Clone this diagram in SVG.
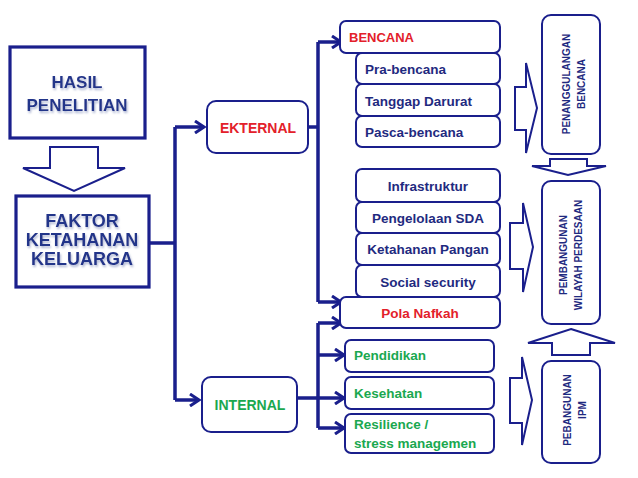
<svg xmlns="http://www.w3.org/2000/svg" width="638" height="478" viewBox="0 0 638 478">
<style>
.box{fill:#fff;stroke:#1a1f8c;stroke-width:2}
.big{fill:#fff;stroke:#1a1f8c;stroke-width:3.2}
.blk{fill:#fff;stroke:#1a1f8c;stroke-width:2}
.con{fill:none;stroke:#1a1f8c;stroke-width:3.5}
.t{font-family:"Liberation Sans",Arial,sans-serif;font-weight:bold;font-size:13.5px;fill:#1f2a80}
.red{fill:#e3202a}
.grn{fill:#1aa84f}
.big-t{font-family:"Liberation Sans",Arial,sans-serif;font-weight:bold;font-size:18px;fill:#24348a;text-anchor:middle}
.v{font-family:"Liberation Sans",Arial,sans-serif;font-weight:bold;font-size:10px;fill:#1f2a80;text-anchor:middle}
.c{text-anchor:middle}
</style>
<defs>
<marker id="ah" viewBox="0 0 12 14" refX="10" refY="7" markerWidth="12" markerHeight="14" markerUnits="userSpaceOnUse" orient="auto">
<path d="M1,1 L10,7 L1,13" fill="none" stroke="#1a1f8c" stroke-width="3"/>
</marker>
<filter id="glow" x="-10%" y="-20%" width="120%" height="140%">
<feGaussianBlur in="SourceAlpha" stdDeviation="1.2" result="b"/>
<feOffset dx="1" dy="1.5" in="b" result="o"/>
<feFlood flood-color="#9aa4c8" flood-opacity="0.8"/>
<feComposite in2="o" operator="in" result="s"/>
<feMerge><feMergeNode in="s"/><feMergeNode in="SourceGraphic"/></feMerge>
</filter>
</defs>

<g id="hasil">
<rect class="big" x="10" y="47" width="135" height="91"/>
<text class="big-t" filter="url(#glow)" font-size="17" style="font-size:17px"><tspan x="77" y="88">HASIL</tspan><tspan x="77" y="111">PENELITIAN</tspan></text>
</g>
<g id="arrow-down-left">
<polygon class="blk" points="50,147 98,147 98,168 125,168 74,191 23,168 50,168"/>
</g>
<g id="faktor">
<rect class="big" x="16" y="196" width="133" height="91"/>
<text class="big-t" filter="url(#glow)"><tspan x="82" y="227">FAKTOR</tspan><tspan x="82" y="246">KETAHANAN</tspan><tspan x="82" y="265">KELUARGA</tspan></text>
</g>

<g id="connectors">
<path class="con" d="M149,243 H175 M175,127 V400 M308,127 H318 M318,42 V302 M318,323 V428 M297,398 H318"/>
<path class="con" marker-end="url(#ah)" d="M175,127 H204"/>
<path class="con" marker-end="url(#ah)" d="M175,400 H199"/>
<path class="con" marker-end="url(#ah)" d="M318,42 H341"/>
<path class="con" marker-end="url(#ah)" d="M318,302 H341"/>
<path class="con" marker-end="url(#ah)" d="M318,323 H341"/>
<path class="con" marker-end="url(#ah)" d="M318,355 H344"/>
<path class="con" marker-end="url(#ah)" d="M318,398 H344"/>
<path class="con" marker-end="url(#ah)" d="M318,428 H344"/>
</g>

<g id="ekternal">
<rect class="box" x="207" y="101" width="101" height="52" rx="9"/>
<text class="t red c" x="258" y="133" style="font-size:14px">EKTERNAL</text>
</g>
<g id="internal">
<rect class="box" x="202" y="377" width="95" height="55" rx="9"/>
<text class="t grn c" x="250" y="410" style="font-size:14px">INTERNAL</text>
</g>

<g id="bencana">
<rect class="box" x="340" y="21" width="160" height="32" rx="6"/>
<text class="t red" x="349" y="42" style="font-size:13px">BENCANA</text>
</g>
<g id="pra-bencana">
<rect class="box" x="356" y="53" width="144" height="31" rx="6"/>
<text class="t" x="365" y="74">Pra-bencana</text>
</g>
<g id="tanggap-darurat">
<rect class="box" x="356" y="84" width="144" height="32" rx="6"/>
<text class="t" x="365" y="106">Tanggap Darurat</text>
</g>
<g id="pasca-bencana">
<rect class="box" x="356" y="116" width="144" height="31" rx="6"/>
<text class="t" x="365" y="137">Pasca-bencana</text>
</g>

<g id="infrastruktur">
<rect class="box" x="356" y="169" width="144" height="33" rx="6"/>
<text class="t c" x="428" y="191">Infrastruktur</text>
</g>
<g id="pengelolaan-sda">
<rect class="box" x="356" y="202" width="144" height="31" rx="6"/>
<text class="t c" x="428" y="223">Pengelolaan SDA</text>
</g>
<g id="ketahanan-pangan">
<rect class="box" x="356" y="233" width="144" height="32" rx="6"/>
<text class="t c" x="428" y="254">Ketahanan Pangan</text>
</g>
<g id="social-security">
<rect class="box" x="356" y="265" width="144" height="32" rx="6"/>
<text class="t c" x="428" y="287">Social security</text>
</g>
<g id="pola-nafkah">
<rect class="box" x="340" y="297" width="160" height="31" rx="6"/>
<text class="t red c" x="420" y="318">Pola Nafkah</text>
</g>

<g id="pendidikan">
<rect class="box" x="345" y="340" width="149" height="32" rx="6"/>
<text class="t grn" x="354" y="360">Pendidikan</text>
</g>
<g id="kesehatan">
<rect class="box" x="345" y="377" width="149" height="32" rx="6"/>
<text class="t grn" x="354" y="398">Kesehatan</text>
</g>
<g id="resilience">
<rect class="box" x="345" y="414" width="149" height="39" rx="6"/>
<text class="t grn"><tspan x="354" y="429">Resilience /</tspan><tspan x="354" y="448">stress managemen</tspan></text>
</g>

<g id="arrow-right-1"><polygon class="blk" points="515,87 526,87 526,63 537,108 526,153 526,130 515,130"/></g>
<g id="arrow-right-2"><polygon class="blk" points="510,223 523,223 523,203 533,247 523,292 523,269 510,269"/></g>
<g id="arrow-right-3"><polygon class="blk" points="510,378 522,378 522,357 532,400 522,445 522,423 510,423"/></g>

<g id="penanggulangan-bencana">
<rect class="box" x="542" y="15" width="58" height="139" rx="9"/>
<text class="v" transform="translate(570,84) rotate(-90)">PENANGGULANGAN</text>
<text class="v" transform="translate(585,84) rotate(-90)">BENCANA</text>
</g>
<g id="arrow-down-right"><polygon class="blk" points="550,159 587,159 587,166 606,166 568,175 532,166 550,166"/></g>
<g id="pembangunan-wilayah">
<rect class="box" x="542" y="181" width="58" height="143" rx="9"/>
<text class="v" transform="translate(567,255) rotate(-90)">PEMBANGUNAN</text>
<text class="v" transform="translate(582,255) rotate(-90)">WILAYAH PERDESAAN</text>
</g>
<g id="arrow-up-right"><polygon class="blk" points="571,329 615,343 590,343 590,355 552,355 552,343 528,343"/></g>
<g id="pebangunan-ipm">
<rect class="box" x="542" y="361" width="58" height="102" rx="9"/>
<text class="v" transform="translate(571,410) rotate(-90)">PEBANGUNAN</text>
<text class="v" transform="translate(586,410) rotate(-90)">IPM</text>
</g>
</svg>
